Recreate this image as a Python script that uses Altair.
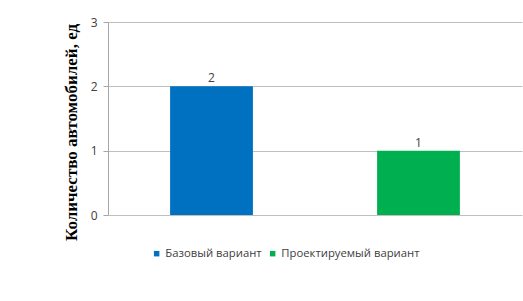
import altair as alt
import pandas as pd

series = ["Базовый вариант", "Проектируемый вариант"]
values = [2, 1]
colors = ["#0070C0", "#00B050"]

df = pd.DataFrame({"series": series, "value": values})

x = alt.X("series:N", sort=series, axis=None,
          scale=alt.Scale(paddingInner=0.6, paddingOuter=0.3))
y = alt.Y("value:Q", scale=alt.Scale(domain=[0, 3]),
          axis=alt.Axis(values=[0, 1, 2, 3], format="d", title="Количество автомобилей, ед",
                        titleFont="Liberation Serif", titleFontSize=17, titleFontWeight="bold",
                        titleColor="#000000", titleAngle=-90, titleBaseline="middle",
                        titleAlign="center", titleX=-37, titleY=110,
                        labelFont="Open Sans", labelFontSize=12, labelColor="#404040",
                        labelPadding=6, tickSize=5, tickColor="#a6a6a6",
                        domainColor="#a6a6a6", gridColor="#bfbfbf"))

bars = alt.Chart(df).mark_bar().encode(
    x=x, y=y,
    color=alt.Color("series:N", sort=series,
                    scale=alt.Scale(domain=series, range=colors),
                    legend=alt.Legend(title=None, orient="none", direction="horizontal",
                                      legendX=43, legendY=226, symbolType="square",
                                      symbolSize=30, labelFont="Open Sans", labelFontSize=11.3,
                                      labelColor="#404040", columnPadding=5, labelOffset=3,
                                      symbolStrokeWidth=0)),
)

text = alt.Chart(df).mark_text(dy=-8, font="Open Sans", fontSize=12, color="#404040").encode(
    x=x, y="value:Q", text="value:Q"
)

chart = (bars + text).properties(
    width=414, height=193,
    autosize=alt.AutoSizeParams(type="none"),
    padding={"left": 108, "top": 22, "right": 1, "bottom": 86},
).configure_view(stroke=None)

chart.save("out.html", embed_options={"renderer": "svg", "actions": False})
